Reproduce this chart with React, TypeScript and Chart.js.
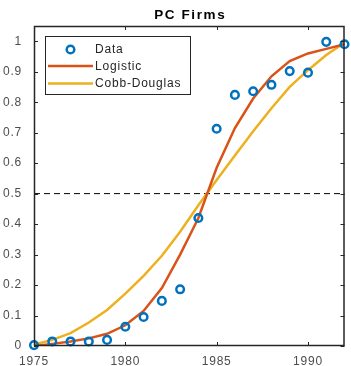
import { useEffect, useRef } from 'react';
import { Chart, registerables } from 'chart.js';

Chart.register(...registerables);

const years = [1975, 1976, 1977, 1978, 1979, 1980, 1981, 1982, 1983, 1984, 1985, 1986, 1987, 1988, 1989, 1990, 1991, 1992];
const dataValues = [0.003, 0.015, 0.015, 0.015, 0.02, 0.063, 0.095, 0.148, 0.186, 0.42, 0.713, 0.824, 0.836, 0.857, 0.902, 0.897, 0.998, 0.99];
const logisticValues = [0.0, 0.007, 0.015, 0.025, 0.04, 0.068, 0.115, 0.19, 0.3, 0.42, 0.585, 0.715, 0.812, 0.885, 0.935, 0.96, 0.975, 0.99];
const cobbDouglasValues = [0.005, 0.02, 0.042, 0.077, 0.118, 0.172, 0.23, 0.296, 0.375, 0.462, 0.545, 0.625, 0.705, 0.78, 0.85, 0.905, 0.955, 0.995];
const thresholdValue = 0.5;
const xTicks = [1975, 1980, 1985, 1990];
const yTicks = [0, 0.1, 0.2, 0.3, 0.4, 0.5, 0.6, 0.7, 0.8, 0.9, 1];
const titleText = 'PC Firms';
const legendLabels = ['Data', 'Logistic', 'Cobb-Douglas'];

const BLUE = '#0072BD';
const ORANGE = '#D95319';
const YELLOW = '#EDB120';
const FONT = '"Liberation Sans", Arial, sans-serif';

const toPoints = (vals: number[]) => vals.map((v, i) => ({ x: years[i], y: v }));

const matlabPlugin = {
  id: 'matlabBox',
  beforeLayout(chart: any) {
    (chart.ctx as any).letterSpacing = '0.8px';
  },
  beforeDraw(chart: any) {
    (chart.ctx as any).letterSpacing = '0.8px';
  },
  afterDraw(chart: any) {
    const { ctx, chartArea: a, scales } = chart;
    const xs = scales.x;
    const ys = scales.y;
    ctx.save();
    // axes box
    ctx.strokeStyle = '#262626';
    ctx.lineWidth = 1.5;
    ctx.strokeRect(a.left + 0.5, a.top + 0.5, a.right - a.left - 1, a.bottom - a.top - 1);
    // inner ticks
    ctx.lineWidth = 1;
    const tl = 4;
    ctx.beginPath();
    xTicks.forEach((v) => {
      const px = Math.round(xs.getPixelForValue(v)) + 0.5;
      ctx.moveTo(px, a.bottom);
      ctx.lineTo(px, a.bottom - tl);
      ctx.moveTo(px, a.top);
      ctx.lineTo(px, a.top + tl);
    });
    yTicks.forEach((v) => {
      const py = Math.round(ys.getPixelForValue(v)) + 0.5;
      ctx.moveTo(a.left, py);
      ctx.lineTo(a.left + tl, py);
      ctx.moveTo(a.right, py);
      ctx.lineTo(a.right - tl, py);
    });
    ctx.stroke();

    // title
    (ctx as any).letterSpacing = '1.6px';
    ctx.fillStyle = '#000';
    ctx.font = `bold 13.5px ${FONT}`;
    ctx.textAlign = 'center';
    ctx.textBaseline = 'alphabetic';
    ctx.fillText(titleText, (a.left + a.right) / 2 + 1, 19);

    // legend
    (ctx as any).letterSpacing = '0.8px';
    const bx = 45.5, by = 36.5, bw = 145, bh = 58;
    ctx.fillStyle = '#fff';
    ctx.fillRect(bx, by, bw, bh);
    ctx.strokeStyle = '#262626';
    ctx.lineWidth = 1;
    ctx.strokeRect(bx, by, bw, bh);
    const rowY = [49.5, 66, 83.5];
    // data marker
    ctx.beginPath();
    ctx.arc(70.5, rowY[0], 3.8, 0, Math.PI * 2);
    ctx.strokeStyle = BLUE;
    ctx.lineWidth = 2.5;
    ctx.stroke();
    // line samples
    ctx.lineWidth = 2.5;
    ctx.strokeStyle = ORANGE;
    ctx.beginPath();
    ctx.moveTo(48, rowY[1]);
    ctx.lineTo(93, rowY[1]);
    ctx.stroke();
    ctx.strokeStyle = YELLOW;
    ctx.beginPath();
    ctx.moveTo(48, rowY[2]);
    ctx.lineTo(93, rowY[2]);
    ctx.stroke();
    ctx.fillStyle = '#262626';
    ctx.font = `12px ${FONT}`;
    ctx.textAlign = 'left';
    ctx.textBaseline = 'middle';
    legendLabels.forEach((t, i) => ctx.fillText(t, 95, rowY[i] + 0.5));
    ctx.restore();
  },
};

export default function App() {
  const ref = useRef<HTMLCanvasElement | null>(null);
  useEffect(() => {
    if (!ref.current) return;
    const chart = new Chart(ref.current, {
      type: 'line',
      data: {
        datasets: [
          {
            label: 'Data',
            data: toPoints(dataValues),
            showLine: false,
            pointRadius: 3.8,
            pointBorderWidth: 2.5,
            pointBorderColor: BLUE,
            pointBackgroundColor: 'rgba(0,0,0,0)',
            borderColor: BLUE,
            clip: false,
          } as any,
          {
            label: 'Logistic',
            data: toPoints(logisticValues),
            borderColor: ORANGE,
            borderWidth: 2.5,
            pointRadius: 0,
            tension: 0,
          },
          {
            label: 'Cobb-Douglas',
            data: toPoints(cobbDouglasValues),
            borderColor: YELLOW,
            borderWidth: 2.5,
            pointRadius: 0,
            tension: 0,
          },
          {
            label: 'threshold',
            data: [
              { x: years[0], y: thresholdValue },
              { x: years[years.length - 1], y: thresholdValue },
            ],
            borderColor: '#000',
            borderWidth: 1,
            borderDash: [6, 4],
            pointRadius: 0,
          },
        ],
      },
      options: {
        animation: false,
        responsive: false,
        maintainAspectRatio: false,
        layout: { padding: { top: 26, right: 1, left: 0, bottom: 0 } },
        plugins: {
          legend: { display: false },
          title: { display: false },
          tooltip: { enabled: false },
        },
        scales: {
          x: {
            type: 'linear',
            min: 1975,
            max: 1992,
            grid: { display: false },
            border: { display: false },
            afterFit: (s: any) => {
              s.height = 20;
            },
            afterBuildTicks: (s: any) => {
              s.ticks = xTicks.map((v) => ({ value: v }));
            },
            ticks: {
              autoSkip: false,
              maxRotation: 0,
              padding: 0,
              color: '#4d4d4d',
              font: { family: FONT, size: 12 },
              callback: (v: any) => String(v),
            },
          },
          y: {
            type: 'linear',
            min: 0,
            max: 1.05,
            grid: { display: false },
            border: { display: false },
            afterFit: (s: any) => {
              s.width = 34;
            },
            afterBuildTicks: (s: any) => {
              s.ticks = yTicks.map((v) => ({ value: v }));
            },
            ticks: {
              autoSkip: false,
              padding: 4,
              color: '#4d4d4d',
              font: { family: FONT, size: 12 },
              callback: (v: any) => (v === 0 ? '0' : v === 1 ? '1' : Number(v).toFixed(1)),
            },
          },
        },
      },
      plugins: [matlabPlugin],
    });
    return () => chart.destroy();
  }, []);
  return (
    <div style={{ position: 'absolute', left: 0, top: 0, width: 351, height: 366, background: '#fff' }}>
      <canvas ref={ref} width={351} height={366} style={{ display: 'block' }} />
    </div>
  );
}
